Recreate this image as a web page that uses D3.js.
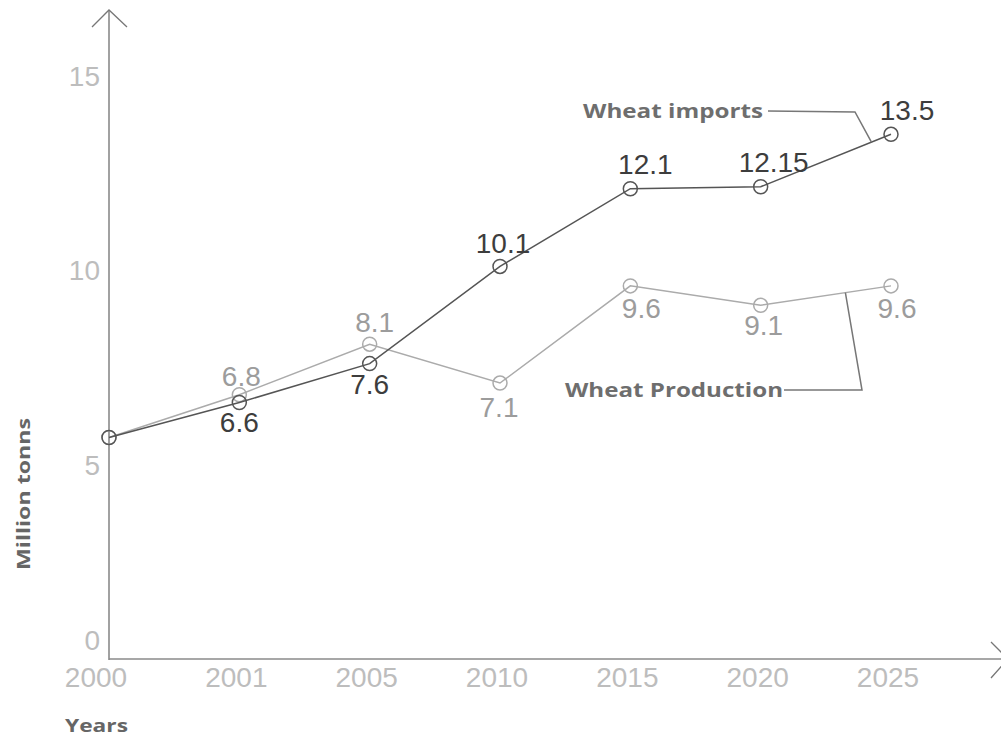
<!DOCTYPE html>
<html>
<head>
<meta charset="utf-8">
<script src="https://cdn.jsdelivr.net/npm/d3@7"></script>
<style>
  body { margin: 0; background: #fff; }
  svg { display: block; }
  .num { font-family: "Liberation Sans", Arial, sans-serif; }
  .ttl { font-family: "Open Sans", "DejaVu Sans", sans-serif; font-weight: 700; }
</style>
</head>
<body>
<div id="chart"></div>
<script>
"use strict";

var years = ["2000", "2001", "2005", "2010", "2015", "2020", "2025"];
var imports = [5.7, 6.6, 7.6, 10.1, 12.1, 12.15, 13.5];
var production = [5.7, 6.8, 8.1, 7.1, 9.6, 9.1, 9.6];
var importLabels = ["", "6.6", "7.6", "10.1", "12.1", "12.15", "13.5"];
var productionLabels = ["", "6.8", "8.1", "7.1", "9.6", "9.1", "9.6"];
var yTicks = [0, 5, 10, 15];

var width = 1001, height = 738;

var svg = d3.select("#chart").append("svg")
    .attr("width", width)
    .attr("height", height);

var x = d3.scalePoint().domain(years).range([109, 891]);
var y = d3.scaleLinear().domain([0, 15]).range([659, 76]);

var axisColor = "#8a8a8a";

// axis lines with open arrow heads
var x0 = x(years[0]), yBase = y(0);
svg.append("line")
    .attr("x1", x0).attr("y1", yBase + 1).attr("x2", x0).attr("y2", 10)
    .attr("stroke", axisColor).attr("stroke-width", 1.6);
svg.append("path")
    .attr("d", "M" + (x0 - 17) + ",27L" + x0 + ",10L" + (x0 + 18) + ",27")
    .attr("fill", "none").attr("stroke", "#777").attr("stroke-width", 1.3);
svg.append("line")
    .attr("x1", x0).attr("y1", yBase).attr("x2", 1008).attr("y2", yBase)
    .attr("stroke", axisColor).attr("stroke-width", 1.6);
svg.append("path")
    .attr("d", "M991," + (yBase - 17) + "L1008," + yBase + "L991," + (yBase + 19))
    .attr("fill", "none").attr("stroke", "#777").attr("stroke-width", 1.3);

// y tick labels
svg.append("g").selectAll("text")
    .data(yTicks)
    .enter().append("text")
    .attr("class", "num")
    .attr("x", 100)
    .attr("y", function(d) { return Math.min(y(d), y(0) - 19) + 10; })
    .attr("text-anchor", "end")
    .attr("font-size", 28)
    .attr("fill", "#bdbdbd")
    .text(function(d) { return d; });

// x tick labels
svg.append("g").selectAll("text")
    .data(years)
    .enter().append("text")
    .attr("class", "num")
    .attr("x", function(d, i) { return x(d) + (i === 0 ? -13 : -3); })
    .attr("y", 687)
    .attr("text-anchor", "middle")
    .attr("font-size", 28)
    .attr("fill", "#bdbdbd")
    .text(function(d) { return d; });

// axis titles
svg.append("text")
    .attr("class", "ttl")
    .attr("transform", "translate(30,494) rotate(-90)")
    .attr("text-anchor", "middle")
    .attr("font-size", 18)
    .attr("fill", "#666")
    .attr("textLength", 152).attr("lengthAdjust", "spacingAndGlyphs")
    .text("Million tonns");

svg.append("text")
    .attr("class", "ttl")
    .attr("x", 65).attr("y", 732)
    .attr("font-size", 18)
    .attr("fill", "#666")
    .attr("textLength", 63).attr("lengthAdjust", "spacingAndGlyphs")
    .text("Years");

var line = d3.line()
    .x(function(d, i) { return x(years[i]); })
    .y(function(d) { return y(d); });

function drawSeries(values, labels, color, labelColor, offsets) {
    var g = svg.append("g");
    g.append("path")
        .datum(values)
        .attr("d", line)
        .attr("fill", "none")
        .attr("stroke", color)
        .attr("stroke-width", 1.5);
    g.selectAll("circle")
        .data(values)
        .enter().append("circle")
        .attr("cx", function(d, i) { return x(years[i]); })
        .attr("cy", function(d) { return y(d); })
        .attr("r", 7)
        .attr("fill", "none")
        .attr("stroke", color)
        .attr("stroke-width", 1.5);
    g.selectAll("text")
        .data(values)
        .enter().append("text")
        .attr("class", "num")
        .attr("x", function(d, i) { return x(years[i]) + offsets[i][0]; })
        .attr("y", function(d, i) { return y(d) + offsets[i][1] + 10; })
        .attr("text-anchor", "middle")
        .attr("font-size", 28)
        .attr("fill", labelColor)
        .text(function(d, i) { return labels[i]; });
}

// label offsets (dx, dy of text centre from the point)
var prodOffsets = [[0, 0], [2, -19], [5, -22], [-1, 24], [11, 22], [3, 20], [6, 22]];
var impOffsets = [[0, 0], [0, 20], [0, 20], [3, -23], [15, -25], [13, -25], [16, -24]];

drawSeries(production, productionLabels, "#ababab", "#9c9c9c", prodOffsets);
drawSeries(imports, importLabels, "#555", "#3d3d3d", impOffsets);

// annotations with leader lines
function pointOn(values, i, t) {
    return [
        x(years[i]) + (x(years[i + 1]) - x(years[i])) * t,
        y(values[i]) + (y(values[i + 1]) - y(values[i])) * t
    ];
}

var pImp = pointOn(imports, 5, 0.85);
svg.append("text")
    .attr("class", "ttl")
    .attr("x", 583).attr("y", 118)
    .attr("font-size", 19)
    .attr("fill", "#6e6e6e")
    .attr("textLength", 180).attr("lengthAdjust", "spacingAndGlyphs")
    .text("Wheat imports");
svg.append("path")
    .attr("d", "M768,111L855,112L" + pImp[0] + "," + pImp[1])
    .attr("fill", "none").attr("stroke", "#777").attr("stroke-width", 1.5);

var pProd = pointOn(production, 5, 0.65);
svg.append("text")
    .attr("class", "ttl")
    .attr("x", 565).attr("y", 397)
    .attr("font-size", 19)
    .attr("fill", "#6e6e6e")
    .attr("textLength", 218).attr("lengthAdjust", "spacingAndGlyphs")
    .text("Wheat Production");
svg.append("path")
    .attr("d", "M784,390L862,390L" + pProd[0] + "," + pProd[1])
    .attr("fill", "none").attr("stroke", "#777").attr("stroke-width", 1.5);
</script>
</body>
</html>
